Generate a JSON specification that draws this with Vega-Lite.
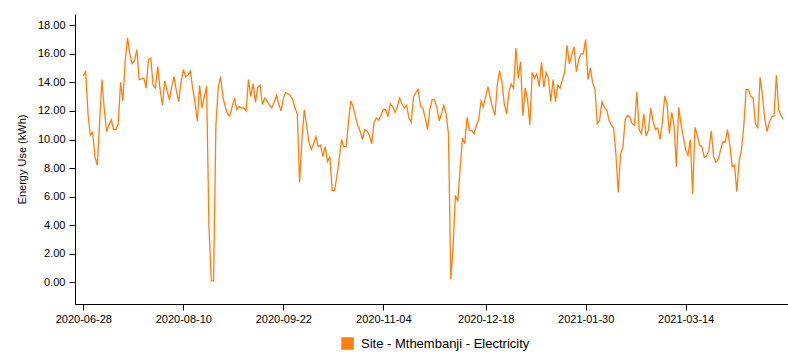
{
  "$schema": "https://vega.github.io/schema/vega-lite/v6.json",
  "autosize": {"type": "none"},
  "padding": {"left": 75, "top": 14, "right": 0, "bottom": 51},
  "width": 713,
  "height": 290,
  "background": "white",
  "config": {
    "view": {"stroke": null},
    "font": "Liberation Sans",
    "axis": {"labelFont": "Liberation Sans", "titleFont": "Liberation Sans", "labelColor": "#000", "titleColor": "#000", "domainColor": "#000", "tickColor": "#000", "grid": false, "labelFontSize": 11, "titleFontSize": 11, "titleFontWeight": "normal"}
  },
  "data": {"values": [
{"date":"2020-06-28","kwh":14.45},{"date":"2020-06-29","kwh":14.8},{"date":"2020-06-30","kwh":11.8},
{"date":"2020-07-01","kwh":10.3},{"date":"2020-07-02","kwh":10.5},{"date":"2020-07-03","kwh":8.8},{"date":"2020-07-04","kwh":8.2},{"date":"2020-07-05","kwh":11.2},{"date":"2020-07-06","kwh":14.2},{"date":"2020-07-07","kwh":12.1},{"date":"2020-07-08","kwh":10.55},{"date":"2020-07-09","kwh":11.0},{"date":"2020-07-10","kwh":11.4},{"date":"2020-07-11","kwh":10.7},{"date":"2020-07-12","kwh":10.7},{"date":"2020-07-13","kwh":11.1},{"date":"2020-07-14","kwh":14.0},{"date":"2020-07-15","kwh":12.7},{"date":"2020-07-16","kwh":15.5},{"date":"2020-07-17","kwh":17.1},{"date":"2020-07-18","kwh":16.0},{"date":"2020-07-19","kwh":15.3},{"date":"2020-07-20","kwh":15.5},{"date":"2020-07-21","kwh":16.3},{"date":"2020-07-22","kwh":14.2},{"date":"2020-07-23","kwh":14.25},{"date":"2020-07-24","kwh":14.3},{"date":"2020-07-25","kwh":13.6},{"date":"2020-07-26","kwh":15.6},{"date":"2020-07-27","kwh":15.7},{"date":"2020-07-28","kwh":13.8},{"date":"2020-07-29","kwh":13.6},{"date":"2020-07-30","kwh":15.1},{"date":"2020-07-31","kwh":13.5},
{"date":"2020-08-01","kwh":12.4},{"date":"2020-08-02","kwh":14.1},{"date":"2020-08-03","kwh":13.4},{"date":"2020-08-04","kwh":12.8},{"date":"2020-08-05","kwh":13.7},{"date":"2020-08-06","kwh":14.4},{"date":"2020-08-07","kwh":13.4},{"date":"2020-08-08","kwh":12.65},{"date":"2020-08-09","kwh":14.0},{"date":"2020-08-10","kwh":14.9},{"date":"2020-08-11","kwh":14.4},{"date":"2020-08-12","kwh":14.5},{"date":"2020-08-13","kwh":14.8},{"date":"2020-08-14","kwh":13.6},{"date":"2020-08-15","kwh":12.6},{"date":"2020-08-16","kwh":11.3},{"date":"2020-08-17","kwh":13.8},{"date":"2020-08-18","kwh":12.2},{"date":"2020-08-19","kwh":13.0},{"date":"2020-08-20","kwh":13.75},{"date":"2020-08-21","kwh":4.0},{"date":"2020-08-22","kwh":0.1},{"date":"2020-08-23","kwh":0.1},{"date":"2020-08-24","kwh":11.0},{"date":"2020-08-25","kwh":13.6},{"date":"2020-08-26","kwh":14.4},{"date":"2020-08-27","kwh":13.0},{"date":"2020-08-28","kwh":12.3},{"date":"2020-08-29","kwh":11.8},{"date":"2020-08-30","kwh":11.65},{"date":"2020-08-31","kwh":12.3},
{"date":"2020-09-01","kwh":12.9},{"date":"2020-09-02","kwh":12.1},{"date":"2020-09-03","kwh":12.3},{"date":"2020-09-04","kwh":12.2},{"date":"2020-09-05","kwh":12.2},{"date":"2020-09-06","kwh":12.0},{"date":"2020-09-07","kwh":14.2},{"date":"2020-09-08","kwh":13.0},{"date":"2020-09-09","kwh":13.9},{"date":"2020-09-10","kwh":12.6},{"date":"2020-09-11","kwh":13.65},{"date":"2020-09-12","kwh":13.8},{"date":"2020-09-13","kwh":12.45},{"date":"2020-09-14","kwh":12.9},{"date":"2020-09-15","kwh":12.7},{"date":"2020-09-16","kwh":12.4},{"date":"2020-09-17","kwh":12.2},{"date":"2020-09-18","kwh":12.6},{"date":"2020-09-19","kwh":13.1},{"date":"2020-09-20","kwh":12.5},{"date":"2020-09-21","kwh":12.0},{"date":"2020-09-22","kwh":12.9},{"date":"2020-09-23","kwh":13.3},{"date":"2020-09-24","kwh":13.2},{"date":"2020-09-25","kwh":13.1},{"date":"2020-09-26","kwh":12.8},{"date":"2020-09-27","kwh":12.2},{"date":"2020-09-28","kwh":11.8},{"date":"2020-09-29","kwh":7.0},{"date":"2020-09-30","kwh":10.0},
{"date":"2020-10-01","kwh":12.1},{"date":"2020-10-02","kwh":11.0},{"date":"2020-10-03","kwh":9.8},{"date":"2020-10-04","kwh":9.3},{"date":"2020-10-05","kwh":9.7},{"date":"2020-10-06","kwh":10.2},{"date":"2020-10-07","kwh":9.5},{"date":"2020-10-08","kwh":9.6},{"date":"2020-10-09","kwh":8.8},{"date":"2020-10-10","kwh":9.5},{"date":"2020-10-11","kwh":8.45},{"date":"2020-10-12","kwh":8.8},{"date":"2020-10-13","kwh":6.42},{"date":"2020-10-14","kwh":6.42},{"date":"2020-10-15","kwh":7.4},{"date":"2020-10-16","kwh":8.6},{"date":"2020-10-17","kwh":10.0},{"date":"2020-10-18","kwh":9.5},{"date":"2020-10-19","kwh":9.5},{"date":"2020-10-20","kwh":11.2},{"date":"2020-10-21","kwh":12.7},{"date":"2020-10-22","kwh":12.3},{"date":"2020-10-23","kwh":11.6},{"date":"2020-10-24","kwh":11.0},{"date":"2020-10-25","kwh":10.6},{"date":"2020-10-26","kwh":10.0},{"date":"2020-10-27","kwh":10.7},{"date":"2020-10-28","kwh":10.6},{"date":"2020-10-29","kwh":10.3},{"date":"2020-10-30","kwh":9.7},{"date":"2020-10-31","kwh":11.2},
{"date":"2020-11-01","kwh":11.5},{"date":"2020-11-02","kwh":11.35},{"date":"2020-11-03","kwh":11.7},{"date":"2020-11-04","kwh":12.1},{"date":"2020-11-05","kwh":12.1},{"date":"2020-11-06","kwh":11.6},{"date":"2020-11-07","kwh":12.5},{"date":"2020-11-08","kwh":12.3},{"date":"2020-11-09","kwh":11.9},{"date":"2020-11-10","kwh":12.3},{"date":"2020-11-11","kwh":12.9},{"date":"2020-11-12","kwh":12.5},{"date":"2020-11-13","kwh":12.2},{"date":"2020-11-14","kwh":12.4},{"date":"2020-11-15","kwh":11.5},{"date":"2020-11-16","kwh":11.2},{"date":"2020-11-17","kwh":13.0},{"date":"2020-11-18","kwh":13.3},{"date":"2020-11-19","kwh":13.5},{"date":"2020-11-20","kwh":12.3},{"date":"2020-11-21","kwh":12.2},{"date":"2020-11-22","kwh":11.5},{"date":"2020-11-23","kwh":10.7},{"date":"2020-11-24","kwh":12.1},{"date":"2020-11-25","kwh":12.8},{"date":"2020-11-26","kwh":12.77},{"date":"2020-11-27","kwh":12.25},{"date":"2020-11-28","kwh":11.3},{"date":"2020-11-29","kwh":11.8},{"date":"2020-11-30","kwh":12.4},
{"date":"2020-12-01","kwh":11.8},{"date":"2020-12-02","kwh":10.4},{"date":"2020-12-03","kwh":0.2},{"date":"2020-12-04","kwh":2.5},{"date":"2020-12-05","kwh":6.1},{"date":"2020-12-06","kwh":5.65},{"date":"2020-12-07","kwh":7.9},{"date":"2020-12-08","kwh":10.1},{"date":"2020-12-09","kwh":9.7},{"date":"2020-12-10","kwh":11.55},{"date":"2020-12-11","kwh":10.67},{"date":"2020-12-12","kwh":10.6},{"date":"2020-12-13","kwh":10.4},{"date":"2020-12-14","kwh":11.0},{"date":"2020-12-15","kwh":11.4},{"date":"2020-12-16","kwh":12.7},{"date":"2020-12-17","kwh":12.3},{"date":"2020-12-18","kwh":13.0},{"date":"2020-12-19","kwh":13.7},{"date":"2020-12-20","kwh":12.9},{"date":"2020-12-21","kwh":12.2},{"date":"2020-12-22","kwh":11.7},{"date":"2020-12-23","kwh":13.8},{"date":"2020-12-24","kwh":14.8},{"date":"2020-12-25","kwh":14.05},{"date":"2020-12-26","kwh":12.5},{"date":"2020-12-27","kwh":11.8},{"date":"2020-12-28","kwh":13.35},{"date":"2020-12-29","kwh":13.9},{"date":"2020-12-30","kwh":13.6},{"date":"2020-12-31","kwh":16.4},
{"date":"2021-01-01","kwh":14.3},{"date":"2021-01-02","kwh":15.45},{"date":"2021-01-03","kwh":11.65},{"date":"2021-01-04","kwh":13.6},{"date":"2021-01-05","kwh":12.8},{"date":"2021-01-06","kwh":11.0},{"date":"2021-01-07","kwh":14.7},{"date":"2021-01-08","kwh":14.3},{"date":"2021-01-09","kwh":14.6},{"date":"2021-01-10","kwh":13.7},{"date":"2021-01-11","kwh":15.4},{"date":"2021-01-12","kwh":13.65},{"date":"2021-01-13","kwh":14.7},{"date":"2021-01-14","kwh":14.3},{"date":"2021-01-15","kwh":12.65},{"date":"2021-01-16","kwh":14.2},{"date":"2021-01-17","kwh":12.65},{"date":"2021-01-18","kwh":13.8},{"date":"2021-01-19","kwh":13.6},{"date":"2021-01-20","kwh":14.2},{"date":"2021-01-21","kwh":14.75},{"date":"2021-01-22","kwh":16.6},{"date":"2021-01-23","kwh":15.3},{"date":"2021-01-24","kwh":15.9},{"date":"2021-01-25","kwh":16.5},{"date":"2021-01-26","kwh":14.75},{"date":"2021-01-27","kwh":15.6},{"date":"2021-01-28","kwh":16.0},{"date":"2021-01-29","kwh":16.0},{"date":"2021-01-30","kwh":17.0},{"date":"2021-01-31","kwh":14.2},
{"date":"2021-02-01","kwh":15.0},{"date":"2021-02-02","kwh":14.0},{"date":"2021-02-03","kwh":13.5},{"date":"2021-02-04","kwh":11.1},{"date":"2021-02-05","kwh":11.35},{"date":"2021-02-06","kwh":12.65},{"date":"2021-02-07","kwh":12.25},{"date":"2021-02-08","kwh":12.1},{"date":"2021-02-09","kwh":11.4},{"date":"2021-02-10","kwh":11.0},{"date":"2021-02-11","kwh":10.8},{"date":"2021-02-12","kwh":9.0},{"date":"2021-02-13","kwh":6.3},{"date":"2021-02-14","kwh":9.0},{"date":"2021-02-15","kwh":9.45},{"date":"2021-02-16","kwh":11.4},{"date":"2021-02-17","kwh":11.7},{"date":"2021-02-18","kwh":11.55},{"date":"2021-02-19","kwh":11.1},{"date":"2021-02-20","kwh":11.0},{"date":"2021-02-21","kwh":13.35},{"date":"2021-02-22","kwh":10.7},{"date":"2021-02-23","kwh":10.4},{"date":"2021-02-24","kwh":11.8},{"date":"2021-02-25","kwh":10.25},{"date":"2021-02-26","kwh":10.67},{"date":"2021-02-27","kwh":12.2},{"date":"2021-02-28","kwh":11.25},
{"date":"2021-03-01","kwh":10.7},{"date":"2021-03-02","kwh":10.8},{"date":"2021-03-03","kwh":10.0},{"date":"2021-03-04","kwh":11.25},{"date":"2021-03-05","kwh":13.05},{"date":"2021-03-06","kwh":12.5},{"date":"2021-03-07","kwh":10.4},{"date":"2021-03-08","kwh":11.9},{"date":"2021-03-09","kwh":11.0},{"date":"2021-03-10","kwh":8.1},{"date":"2021-03-11","kwh":12.25},{"date":"2021-03-12","kwh":11.1},{"date":"2021-03-13","kwh":10.2},{"date":"2021-03-14","kwh":9.27},{"date":"2021-03-15","kwh":8.9},{"date":"2021-03-16","kwh":10.0},{"date":"2021-03-17","kwh":6.2},{"date":"2021-03-18","kwh":10.85},{"date":"2021-03-19","kwh":10.3},{"date":"2021-03-20","kwh":9.6},{"date":"2021-03-21","kwh":9.5},{"date":"2021-03-22","kwh":8.75},{"date":"2021-03-23","kwh":8.85},{"date":"2021-03-24","kwh":9.27},{"date":"2021-03-25","kwh":10.6},{"date":"2021-03-26","kwh":8.8},{"date":"2021-03-27","kwh":8.4},{"date":"2021-03-28","kwh":8.6},{"date":"2021-03-29","kwh":9.27},{"date":"2021-03-30","kwh":9.85},{"date":"2021-03-31","kwh":9.8},
{"date":"2021-04-01","kwh":10.7},{"date":"2021-04-02","kwh":9.6},{"date":"2021-04-03","kwh":8.1},{"date":"2021-04-04","kwh":8.2},{"date":"2021-04-05","kwh":6.35},{"date":"2021-04-06","kwh":8.5},{"date":"2021-04-07","kwh":9.3},{"date":"2021-04-08","kwh":11.0},{"date":"2021-04-09","kwh":13.5},{"date":"2021-04-10","kwh":13.5},{"date":"2021-04-11","kwh":13.0},{"date":"2021-04-12","kwh":12.9},{"date":"2021-04-13","kwh":11.1},{"date":"2021-04-14","kwh":10.85},{"date":"2021-04-15","kwh":14.35},{"date":"2021-04-16","kwh":13.1},{"date":"2021-04-17","kwh":11.4},{"date":"2021-04-18","kwh":10.55},{"date":"2021-04-19","kwh":11.25},{"date":"2021-04-20","kwh":11.6},{"date":"2021-04-21","kwh":11.65},{"date":"2021-04-22","kwh":14.5},{"date":"2021-04-23","kwh":12.1},{"date":"2021-04-24","kwh":11.65},{"date":"2021-04-25","kwh":11.4}
  ]},
  "mark": {"type": "line", "strokeWidth": 1.3, "interpolate": "linear"},
  "encoding": {
    "x": {
      "field": "date", "type": "temporal",
      "scale": {"type": "utc", "domain": [{"year": 2020, "month": 6, "date": 24, "hours": 10, "utc": true}, {"year": 2021, "month": 4, "date": 27, "utc": true}], "nice": false},
      "axis": {
        "title": null, "labelExpr": "utcFormat(datum.value, '%Y-%m-%d')", "labelAngle": 0, "tickSize": 6, "labelPadding": 3, "labelOverlap": false, "labelFlush": false,
        "values": [
          {"year": 2020, "month": 6, "date": 28, "utc": true},
          {"year": 2020, "month": 8, "date": 10, "utc": true},
          {"year": 2020, "month": 9, "date": 22, "utc": true},
          {"year": 2020, "month": 11, "date": 4, "utc": true},
          {"year": 2020, "month": 12, "date": 18, "utc": true},
          {"year": 2021, "month": 1, "date": 30, "utc": true},
          {"year": 2021, "month": 3, "date": 14, "utc": true}
        ]
      }
    },
    "y": {
      "field": "kwh", "type": "quantitative",
      "scale": {"domain": [-1.52, 18.79], "nice": false, "zero": false},
      "axis": {"title": "Energy Use (kWh)", "values": [0, 2, 4, 6, 8, 10, 12, 14, 16, 18], "format": ".2f", "tickSize": 6, "labelPadding": 4, "titleX": -53, "titleY": 145, "titleBaseline": "middle", "titleAngle": -90}
    },
    "color": {
      "datum": "Site - Mthembanji - Electricity",
      "type": "nominal",
      "scale": {"range": ["#ff7f0e"]},
      "legend": {
        "title": null, "orient": "none", "legendX": 266, "legendY": 323, "padding": 0, "labelLimit": 400,
        "symbolType": "square", "symbolSize": 121, "labelFontSize": 13, "labelFont": "Liberation Sans", "labelColor": "#000", "labelOffset": 7,
        "encode": {"symbols": {"update": {"fill": {"value": "#ff7f0e"}, "stroke": {"value": "transparent"}, "opacity": {"value": 1}}}}
      }
    }
  }
}
